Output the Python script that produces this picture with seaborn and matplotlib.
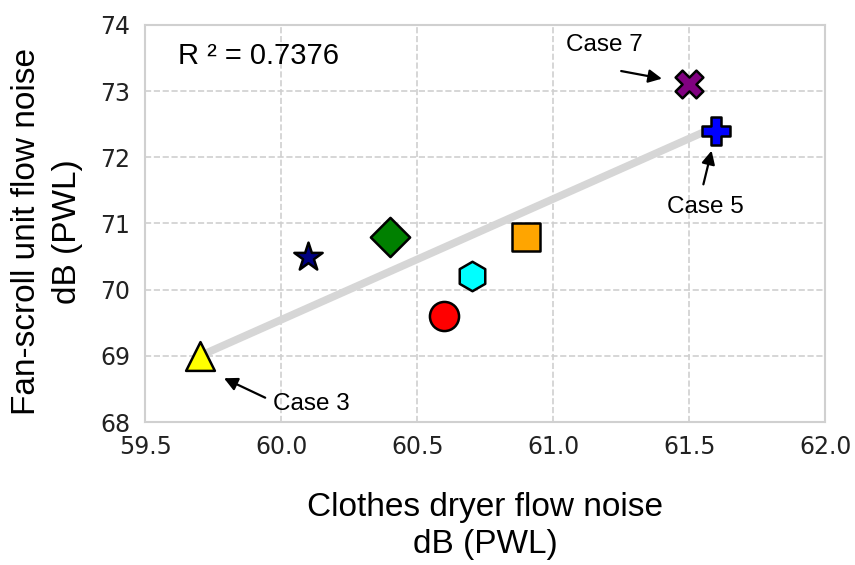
import matplotlib
matplotlib.use("Agg")
import matplotlib.pyplot as plt
import seaborn as sns
import pandas as pd

# ── Data ──────────────────────────────────────────────────
cases   = ["Case 3", "Case 1", "Case 2", "Case 4", "Case 6", "Case 8", "Case 7", "Case 5"]
dryer   = [59.7, 60.1, 60.4, 60.6, 60.7, 60.9, 61.5, 61.6]
fan     = [69.0, 70.5, 70.8, 69.6, 70.2, 70.8, 73.1, 72.4]
markers = ["^", "*", "D", "o", "h", "s", "X", "P"]
colors  = ["yellow", "navy", "green", "red", "cyan", "orange", "purple", "blue"]
sizes   = [430, 460, 400, 440, 450, 420, 400, 420]

df = pd.DataFrame({"case": cases, "dryer": dryer, "fan": fan})

sns.set_style("whitegrid", {"grid.linestyle": "--", "grid.color": "#cfcfcf",
                            "axes.edgecolor": "#d0d0d0"})
plt.rcParams["font.family"] = ["Liberation Sans", "DejaVu Sans"]

fig = plt.figure(figsize=(8.55, 5.65), dpi=100)
ax = fig.add_axes([0.170, 0.253, 0.795, 0.703])

# regression line
sns.regplot(data=df, x="dryer", y="fan", scatter=False, ci=None, truncate=True,
            line_kws={"color": "#d6d6d6", "lw": 5.5, "zorder": 1}, ax=ax)

for i in range(len(df)):
    sns.scatterplot(x=[dryer[i]], y=[fan[i]], marker=markers[i], s=sizes[i],
                    color=colors[i], edgecolor="black", linewidth=1.8,
                    zorder=3, ax=ax, legend=False)

ax.set_xlim(59.5, 62.0)
ax.set_ylim(68, 74)
ax.set_xticks([59.5, 60.0, 60.5, 61.0, 61.5, 62.0])
ax.set_yticks([68, 69, 70, 71, 72, 73, 74])
ax.tick_params(axis="both", labelsize=17, length=0, labelcolor="#222222")
ax.tick_params(axis="x", pad=9)
ax.tick_params(axis="y", pad=11)
for lab in ax.get_xticklabels() + ax.get_yticklabels():
    lab.set_family("DejaVu Sans")
ax.grid(True, linestyle="--", color="#cfcfcf", lw=1.2)
for sp in ax.spines.values():
    sp.set_color("#d0d0d0")
    sp.set_linewidth(1.5)

ax.set_xlabel("Clothes dryer flow noise\ndB (PWL)", fontsize=24, labelpad=24,
              linespacing=1.25, color="black")
ax.set_ylabel("Fan-scroll unit flow noise\ndB (PWL)", fontsize=24,
              linespacing=1.4, color="black")
ax.yaxis.set_label_coords(-0.092, 0.479)

ax.text(59.62, 73.53, "R ² = 0.7376", fontsize=21, va="center", ha="left", color="black")

arrow = dict(arrowstyle="-|>", color="black", lw=1.6, mutation_scale=20)
ax.annotate("", xy=(61.41, 73.18), xytext=(61.24, 73.31), arrowprops=arrow)
ax.text(61.19, 73.7, "Case 7", fontsize=17.5, ha="center", va="center", color="black")
ax.annotate("", xy=(61.585, 72.14), xytext=(61.55, 71.55), arrowprops=arrow)
ax.text(61.56, 71.25, "Case 5", fontsize=17.5, ha="center", va="center", color="black")
ax.annotate("", xy=(59.78, 68.68), xytext=(59.95, 68.35), arrowprops=arrow)
ax.text(60.11, 68.27, "Case 3", fontsize=17.5, ha="center", va="center", color="black")

fig.savefig("out.png", dpi=100)
